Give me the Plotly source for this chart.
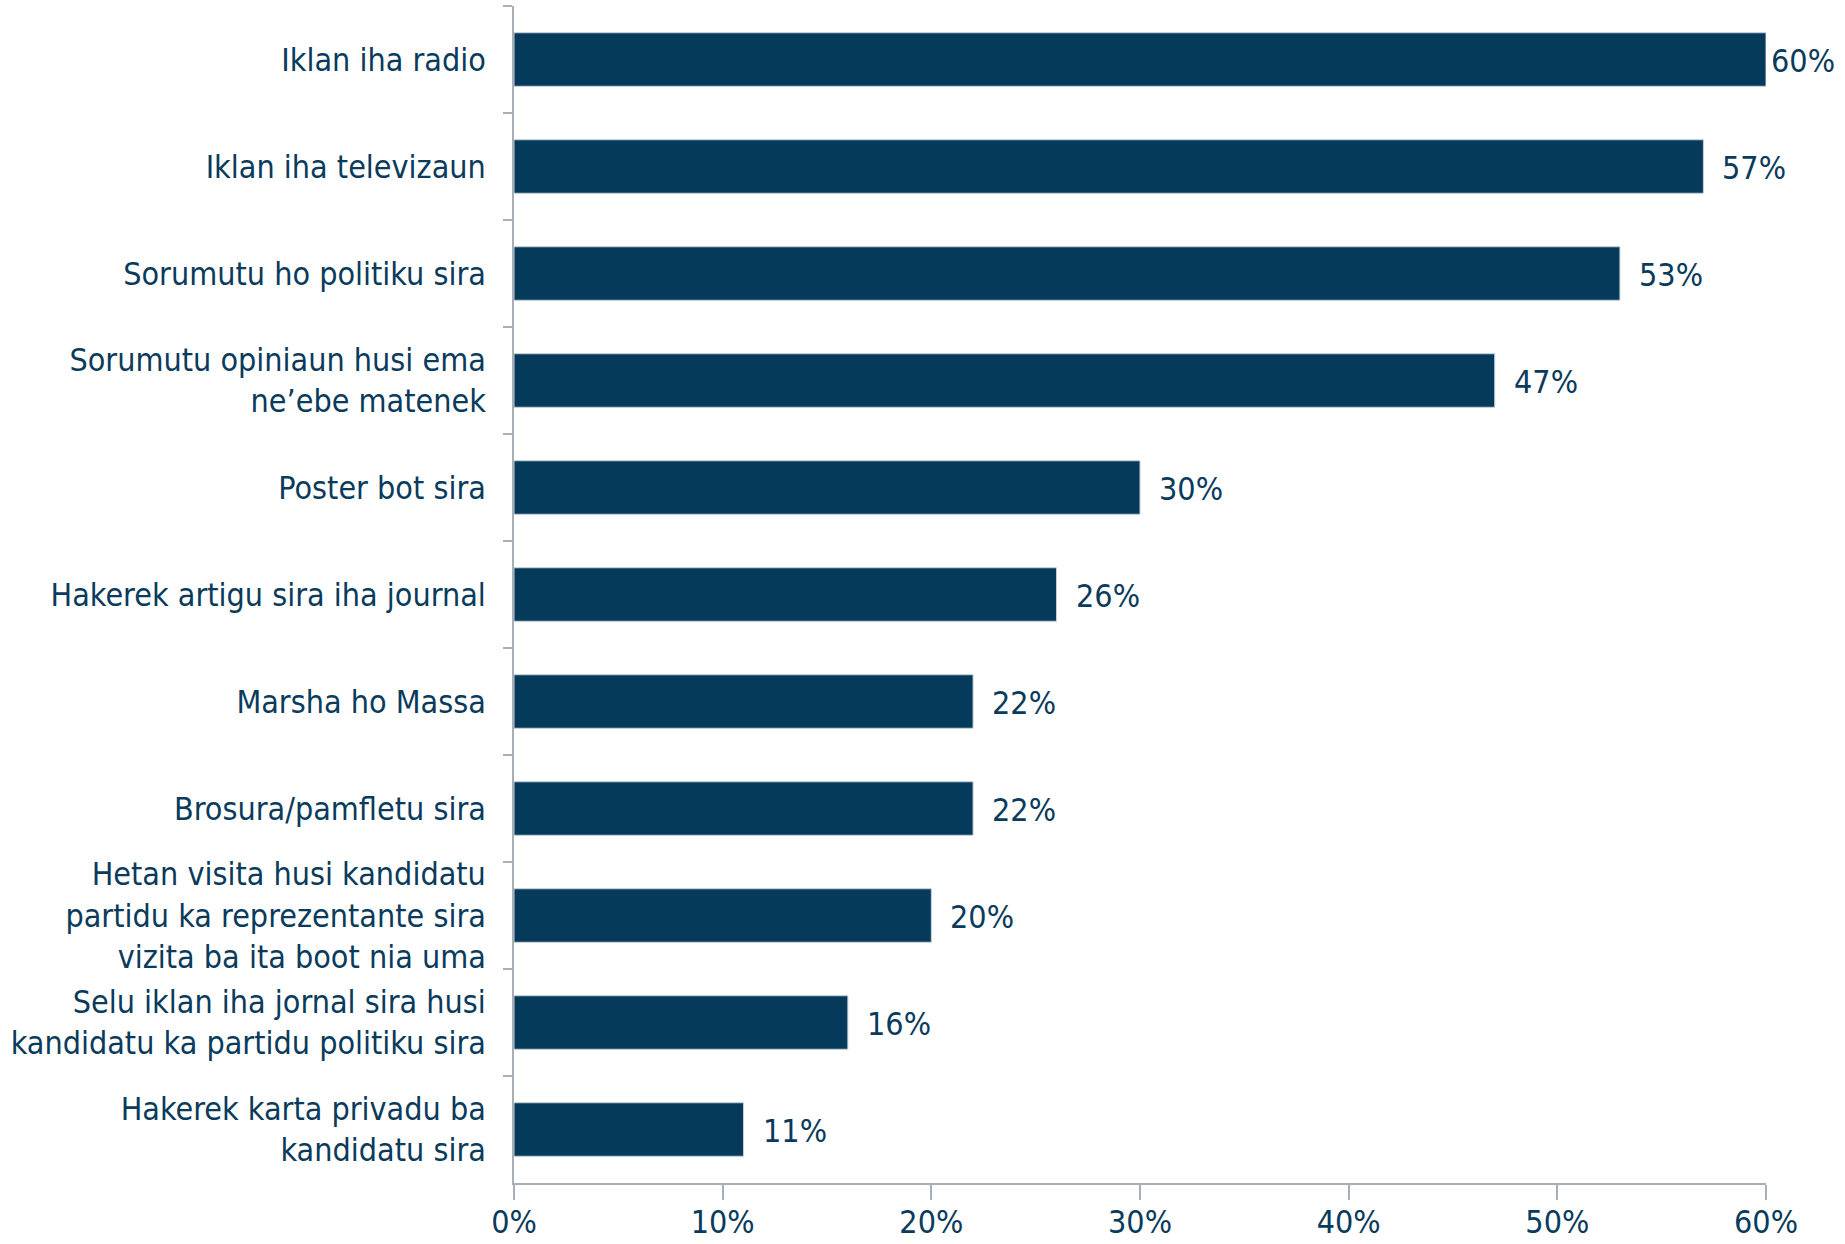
import plotly.graph_objects as go

categories = [
    "Iklan iha radio",
    "Iklan iha televizaun",
    "Sorumutu ho politiku sira",
    "Sorumutu opiniaun husi ema<br>ne’ebe matenek",
    "Poster bot sira",
    "Hakerek artigu sira iha journal",
    "Marsha ho Massa",
    "Brosura/pamfletu sira",
    "Hetan visita husi kandidatu<br>partidu ka reprezentante sira<br>vizita ba ita boot nia uma",
    "Selu iklan iha jornal sira husi<br>kandidatu ka partidu politiku sira",
    "Hakerek karta privadu ba<br>kandidatu sira",
]
values = [60, 57, 53, 47, 30, 26, 22, 22, 20, 16, 11]
x_ticks = [0, 10, 20, 30, 40, 50, 60]
x_tick_labels = [f"{t}%" for t in x_ticks]

NAVY = "#053A5B"
TEXT = "#0A3B5C"
AXIS = "#A7AFB8"
FONT = "DejaVu Sans Condensed, Liberation Sans Narrow, Open Sans, sans-serif"
FS = 32

fig = go.Figure(
    go.Bar(
        y=categories,
        x=values,
        orientation="h",
        marker=dict(color=NAVY, line=dict(color="#C5D0DA", width=1)),
        hoverinfo="x+y",
    )
)

vmax = max(values)
for cat, v in zip(categories, values):
    fig.add_annotation(
        x=v,
        y=cat,
        text=f"{v}%",
        showarrow=False,
        xanchor="left",
        yanchor="middle",
        xshift=17 if v < vmax else 3,
        yshift=-1,
        font=dict(family=FONT, size=FS, color=TEXT),
    )

fig.update_layout(
    width=1845,
    height=1244,
    paper_bgcolor="white",
    plot_bgcolor="white",
    margin=dict(l=514, r=79, t=6, b=61, autoexpand=False),
    bargap=0.5,
    showlegend=False,
    font=dict(family=FONT, size=FS, color=TEXT),
)

fig.update_xaxes(
    range=[0, 60],
    tickvals=x_ticks,
    ticktext=x_tick_labels,
    showgrid=False,
    zeroline=False,
    showline=True,
    linecolor=AXIS,
    linewidth=1.5,
    ticks="outside",
    ticklen=15,
    tickcolor=AXIS,
    tickwidth=1.5,
    ticklabelstandoff=-5,
    tickfont=dict(family=FONT, size=FS, color=TEXT),
)

fig.update_yaxes(
    categoryorder="array",
    categoryarray=categories,
    autorange="reversed",
    showgrid=False,
    showline=True,
    linecolor=AXIS,
    linewidth=1.5,
    ticks="outside",
    tickson="boundaries",
    ticklen=9,
    tickcolor=AXIS,
    tickwidth=1.5,
    ticklabelstandoff=20,
    tickfont=dict(family=FONT, size=FS, color=TEXT),
)

fig.write_html(
    "out.html",
    config={"displayModeBar": False},
    post_script="document.body.style.margin='0px';document.body.style.overflow='hidden';",
)
